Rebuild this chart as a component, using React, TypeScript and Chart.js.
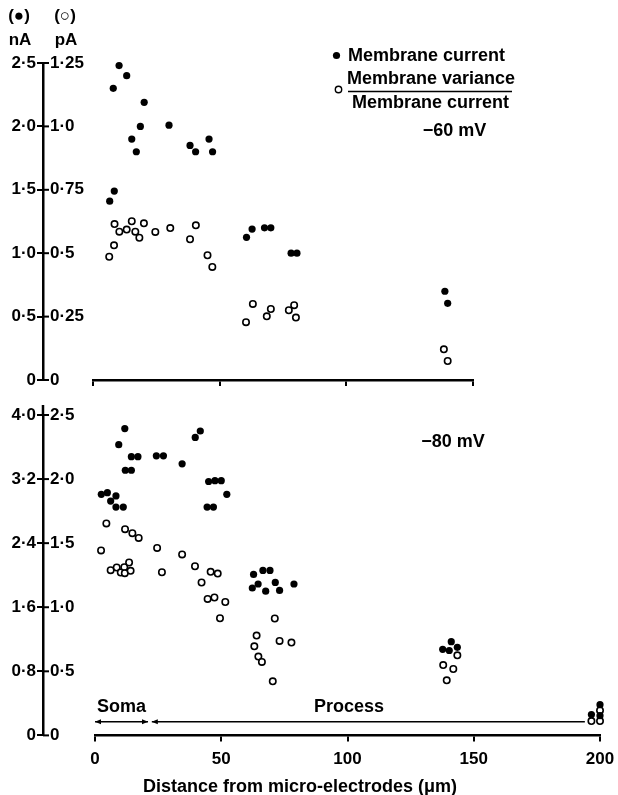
import React, { useEffect, useRef } from "react";
import { Chart, registerables } from "chart.js";

Chart.register(...registerables);

const FONT = "'Liberation Sans', Arial, Helvetica, sans-serif";

// ---------- Top panel (−60 mV) ----------
const topCurrentX = [10.3, 13.3, 8.0, 20.2, 18.7, 30.0, 15.3, 17.1, 38.3, 40.5, 45.8, 47.2, 8.4, 6.6, 60.6, 62.8, 67.7, 70.2, 78.2, 80.5, 138.9, 140.0];
const topCurrentY = [2.48, 2.40, 2.30, 2.19, 2.00, 2.01, 1.90, 1.80, 1.85, 1.80, 1.90, 1.80, 1.49, 1.41, 1.125, 1.19, 1.20, 1.20, 1.00, 1.00, 0.70, 0.605];
const topRatioX = [8.5, 15.3, 20.1, 10.4, 13.3, 16.7, 18.3, 24.6, 30.5, 40.6, 38.3, 8.3, 6.4, 45.2, 47.1, 63.1, 60.4, 70.2, 68.6, 77.3, 79.4, 80.1, 138.5, 140.0];
const topRatioY = [0.615, 0.626, 0.618, 0.585, 0.593, 0.585, 0.561, 0.584, 0.599, 0.610, 0.555, 0.531, 0.486, 0.492, 0.446, 0.30, 0.228, 0.28, 0.251, 0.275, 0.295, 0.246, 0.121, 0.075];

// ---------- Bottom panel (−80 mV) ----------
const bottomCurrentX = [2.5, 4.9, 6.2, 8.3, 8.3, 11.2, 9.4, 11.8, 12.0, 14.4, 14.4, 17.0, 24.3, 27.1, 34.5, 39.7, 41.7, 45.0, 47.5, 50.0, 52.2, 44.4, 46.9, 62.8, 66.5, 69.3, 64.6, 62.3, 67.6, 71.4, 73.1, 78.8, 141.1, 137.7, 140.3, 143.5, 196.6, 200, 200];
const bottomCurrentY = [3.01, 3.03, 2.925, 2.99, 2.85, 2.85, 3.63, 3.83, 3.31, 3.31, 3.48, 3.48, 3.49, 3.49, 3.39, 3.72, 3.80, 3.17, 3.18, 3.18, 3.01, 2.85, 2.85, 2.01, 2.06, 2.06, 1.89, 1.84, 1.80, 1.91, 1.81, 1.89, 1.17, 1.075, 1.06, 1.10, 0.26, 0.384, 0.246];
const bottomRatioX = [4.5, 2.4, 11.9, 14.8, 17.3, 24.6, 34.5, 6.2, 8.6, 10.2, 11.6, 11.8, 13.5, 14.1, 26.5, 39.6, 45.8, 48.6, 42.2, 44.6, 47.3, 51.6, 49.5, 71.2, 64.0, 63.1, 73.1, 77.8, 64.7, 66.1, 70.4, 143.5, 137.9, 141.9, 139.3, 200, 200, 196.6];
const bottomRatioY = [1.654, 1.443, 1.609, 1.578, 1.541, 1.463, 1.412, 1.289, 1.31, 1.271, 1.3125, 1.266, 1.349, 1.284, 1.273, 1.32, 1.276, 1.263, 1.193, 1.065, 1.076, 1.041, 0.914, 0.912, 0.779, 0.695, 0.737, 0.724, 0.615, 0.573, 0.422, 0.625, 0.549, 0.518, 0.43, 0.195, 0.112, 0.112];

// ---------- Axes ----------
const topNaTicks = [0, 0.5, 1.0, 1.5, 2.0, 2.5];
const topNaLabels = ["0", "0·5", "1·0", "1·5", "2·0", "2·5"];
const topPaTicks = [0, 0.25, 0.5, 0.75, 1.0, 1.25];
const topPaLabels = ["0", "0·25", "0·5", "0·75", "1·0", "1·25"];
const bottomNaTicks = [0, 0.8, 1.6, 2.4, 3.2, 4.0];
const bottomNaLabels = ["0", "0·8", "1·6", "2·4", "3·2", "4·0"];
const bottomPaTicks = [0, 0.5, 1.0, 1.5, 2.0, 2.5];
const bottomPaLabels = ["0", "0·5", "1·0", "1·5", "2·0", "2·5"];
const topXTicks = [0, 50, 100, 150];
const bottomXTicks = [0, 50, 100, 150, 200];
const bottomXLabels = ["0", "50", "100", "150", "200"];

const xTitle = "Distance from micro-electrodes (μm)";
const topVoltage = "\u221260 mV";
const bottomVoltage = "\u221280 mV";
const legendCurrent = "Membrane current";
const legendVariance = "Membrane variance";

function pts(xs: number[], ys: number[]) {
  return xs.map((x, i) => ({ x, y: ys[i] }));
}

const tickFont = { family: FONT, size: 17, weight: "bold" as const };

function yScales(naT: number[], naL: string[], paT: number[], paL: string[], paW: number) {
  return {
    yNa: {
      type: "linear",
      position: "left",
      weight: 2,
      min: naT[0],
      max: naT[naT.length - 1],
      afterBuildTicks: (s: any) => { s.ticks = naT.map((v) => ({ value: v })); },
      afterFit: (s: any) => { s.width = 43; },
      border: { display: true, color: "#000", width: 2.5 },
      grid: { display: true, drawOnChartArea: false, drawTicks: true, tickLength: 6, color: "#000", lineWidth: 2 },
      ticks: { padding: 1, color: "#000", font: tickFont, callback: (_v: any, i: number) => naL[i] },
    },
    ySpacer: {
      type: "linear",
      position: "left",
      weight: 1,
      display: true,
      afterFit: (s: any) => { s.width = 7; },
      border: { display: false },
      grid: { display: false, drawTicks: false },
      ticks: { display: false },
    },
    yPa: {
      type: "linear",
      position: "left",
      weight: 0,
      min: paT[0],
      max: paT[paT.length - 1],
      afterBuildTicks: (s: any) => { s.ticks = paT.map((v) => ({ value: v })); },
      afterFit: (s: any) => { s.width = paW; },
      border: { display: false },
      grid: { display: false, drawTicks: false },
      ticks: { crossAlign: "far", padding: 0, color: "#000", font: tickFont, callback: (_v: any, i: number) => paL[i] },
    },
  };
}

function drawCrossTicks(chart: any, extendTop: number) {
  const s = chart.scales.yNa;
  const ctx = chart.ctx;
  ctx.save();
  ctx.strokeStyle = "#000";
  ctx.lineWidth = 2;
  s.ticks.forEach((t: any) => {
    const y = s.getPixelForValue(t.value);
    ctx.beginPath();
    ctx.moveTo(s.right, y);
    ctx.lineTo(s.right + 6, y);
    ctx.stroke();
  });
  if (extendTop > 0) {
    ctx.lineWidth = 2.5;
    ctx.beginPath();
    ctx.moveTo(s.right, s.top);
    ctx.lineTo(s.right, s.top - extendTop);
    ctx.stroke();
  }
  ctx.restore();
}

function arrowHead(ctx: CanvasRenderingContext2D, x: number, y: number, dir: number) {
  ctx.beginPath();
  ctx.moveTo(x, y);
  ctx.lineTo(x - dir * 6, y - 2.5);
  ctx.lineTo(x - dir * 6, y + 2.5);
  ctx.closePath();
  ctx.fill();
}

const topDecor = {
  id: "topDecor",
  afterDraw(chart: any) {
    drawCrossTicks(chart, 0);
    const ctx = chart.ctx as CanvasRenderingContext2D;
    ctx.save();
    ctx.fillStyle = "#000";
    ctx.strokeStyle = "#000";
    ctx.textBaseline = "middle";
    ctx.textAlign = "center";
    ctx.font = `bold 17px ${FONT}`;
    ctx.fillText("(●)", 19, 16);
    ctx.fillText("(○)", 65, 16);
    ctx.fillText("nA", 20, 40);
    ctx.fillText("pA", 66, 40);

    // legend
    ctx.beginPath();
    ctx.arc(336.5, 55.5, 3.6, 0, Math.PI * 2);
    ctx.fill();
    ctx.beginPath();
    ctx.lineWidth = 1.4;
    ctx.arc(338.5, 89.5, 3.2, 0, Math.PI * 2);
    ctx.stroke();
    ctx.font = `bold 18px ${FONT}`;
    ctx.textAlign = "left";
    ctx.fillText(legendCurrent, 348, 56);
    ctx.textAlign = "center";
    ctx.fillText(legendVariance, 431, 79);
    ctx.fillText(legendCurrent, 430.5, 103);
    ctx.beginPath();
    ctx.lineWidth = 1.5;
    ctx.moveTo(348, 91.5);
    ctx.lineTo(512, 91.5);
    ctx.stroke();
    ctx.fillText(topVoltage, 454.5, 131);
    ctx.restore();
  },
};

const bottomDecor = {
  id: "bottomDecor",
  afterDraw(chart: any) {
    drawCrossTicks(chart, 10);
    const ctx = chart.ctx as CanvasRenderingContext2D;
    const xs = chart.scales.x;
    const ys = chart.scales.yNa;
    ctx.save();
    ctx.fillStyle = "#000";
    ctx.strokeStyle = "#000";
    ctx.textBaseline = "middle";
    ctx.textAlign = "center";
    ctx.font = `bold 18px ${FONT}`;
    ctx.fillText(bottomVoltage, 453, 47);

    const yLine = ys.getPixelForValue(0.17);
    const s0 = xs.getPixelForValue(0);
    const s1 = xs.getPixelForValue(21);
    const p0 = xs.getPixelForValue(22.5);
    const p1 = xs.getPixelForValue(194);
    ctx.lineWidth = 1.5;
    ctx.beginPath();
    ctx.moveTo(s0, yLine);
    ctx.lineTo(s1, yLine);
    ctx.moveTo(p0, yLine);
    ctx.lineTo(p1, yLine);
    ctx.stroke();
    arrowHead(ctx, s0, yLine, -1);
    arrowHead(ctx, s1, yLine, 1);
    arrowHead(ctx, p0, yLine, -1);

    const yText = ys.getPixelForValue(0.35);
    ctx.fillText("Soma", xs.getPixelForValue(10.5), yText);
    ctx.fillText("Process", xs.getPixelForValue(100.6), yText);
    ctx.restore();
  },
};

const filledStyle = { pointRadius: 3.6, pointHoverRadius: 3.6, backgroundColor: "#000", borderColor: "#000", borderWidth: 0, clip: false as const };
const openStyle = { pointRadius: 3.2, pointHoverRadius: 3.2, backgroundColor: "#fff", borderColor: "#000", borderWidth: 1.6, clip: false as const };

export default function App() {
  const topRef = useRef<HTMLCanvasElement>(null);
  const bottomRef = useRef<HTMLCanvasElement>(null);

  useEffect(() => {
    const top = new Chart(topRef.current!, {
      type: "scatter",
      data: {
        datasets: [
          { label: legendCurrent, data: pts(topCurrentX, topCurrentY), yAxisID: "yNa", ...filledStyle },
          { label: "ratio", data: pts(topRatioX, topRatioY), yAxisID: "yPa", ...openStyle },
        ],
      },
      options: {
        animation: false,
        responsive: false,
        devicePixelRatio: 1,
        layout: { padding: { top: 63, right: 145, bottom: 5, left: 0 } },
        plugins: { legend: { display: false }, tooltip: { enabled: false }, title: { display: false } },
        scales: {
          x: {
            type: "linear",
            position: "bottom",
            min: 0,
            max: 150,
            afterBuildTicks: (s: any) => { s.ticks = topXTicks.map((v) => ({ value: v })); },
            afterFit: (s: any) => { s.height = 10; s.paddingLeft = 0; s.paddingRight = 0; },
            border: { display: true, color: "#000", width: 2.5 },
            grid: { display: true, drawOnChartArea: false, drawTicks: true, tickLength: 6, color: "#000", lineWidth: 2 },
            ticks: { display: false },
          },
          ...yScales(topNaTicks, topNaLabels, topPaTicks, topPaLabels, 43),
        } as any,
      },
      plugins: [topDecor],
    });

    const bottom = new Chart(bottomRef.current!, {
      type: "scatter",
      data: {
        datasets: [
          { label: legendCurrent, data: pts(bottomCurrentX, bottomCurrentY), yAxisID: "yNa", ...filledStyle },
          { label: "ratio", data: pts(bottomRatioX, bottomRatioY), yAxisID: "yPa", ...openStyle },
        ],
      },
      options: {
        animation: false,
        responsive: false,
        devicePixelRatio: 1,
        layout: { padding: { top: 20, right: 18, bottom: 0, left: 0 } },
        plugins: {
          legend: { display: false },
          tooltip: { enabled: false },
          title: {
            display: true,
            position: "bottom",
            text: xTitle,
            color: "#000",
            font: { family: FONT, size: 18, weight: "bold", lineHeight: 0.85 },
            padding: { top: 13.3, bottom: 0 },
          },
        },
        scales: {
          x: {
            type: "linear",
            position: "bottom",
            min: 0,
            max: 200,
            afterBuildTicks: (s: any) => { s.ticks = bottomXTicks.map((v) => ({ value: v })); },
            afterFit: (s: any) => { s.height = 31; s.paddingLeft = 0; s.paddingRight = 0; },
            border: { display: true, color: "#000", width: 2.5 },
            grid: { display: true, drawOnChartArea: false, drawTicks: true, tickLength: 6, color: "#000", lineWidth: 2 },
            ticks: { padding: 8, color: "#000", font: tickFont, maxRotation: 0, callback: (_v: any, i: number) => bottomXLabels[i] },
          },
          ...yScales(bottomNaTicks, bottomNaLabels, bottomPaTicks, bottomPaLabels, 45),
        } as any,
      },
      plugins: [bottomDecor],
    });

    return () => {
      top.destroy();
      bottom.destroy();
    };
  }, []);

  return (
    <div style={{ position: "absolute", left: 0, top: 0, width: 618, height: 795, background: "#fff" }}>
      <canvas ref={topRef} width={618} height={395} style={{ position: "absolute", left: 0, top: 0 }} />
      <canvas ref={bottomRef} width={618} height={400} style={{ position: "absolute", left: 0, top: 395 }} />
    </div>
  );
}
